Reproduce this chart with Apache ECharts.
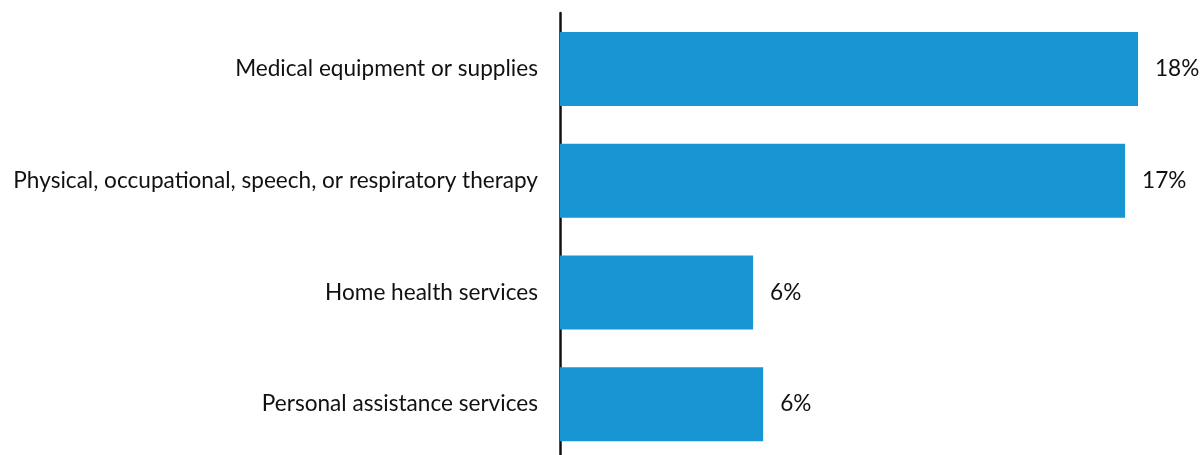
<!DOCTYPE html>
<html>
<head>
<meta charset="utf-8">
<script src="https://cdn.jsdelivr.net/npm/echarts@6/dist/echarts.min.js"></script>
<style>html,body{margin:0;padding:0;background:#fff}#c{width:1200px;height:455px}</style>
</head>
<body>
<div id="c"></div>
<script>
const categories = [
  "Medical equipment or supplies",
  "Physical, occupational, speech, or respiratory therapy",
  "Home health services",
  "Personal assistance services"
];
const values = [17.84, 17.44, 5.96, 6.27];

const chart = echarts.init(document.getElementById('c'), null, {renderer: 'canvas'});
chart.setOption({
  animation: false,
  grid: {left: 560, width: 615.6, top: 13, height: 447, containLabel: false, outerBoundsMode: 'none'},
  xAxis: {
    type: 'value', min: 0, max: 19, show: false
  },
  yAxis: {
    type: 'category', data: categories, inverse: true,
    axisLine: {show: true, lineStyle: {color: '#111', width: 2.5}},
    axisTick: {show: false},
    axisLabel: {color: '#111', fontFamily: 'Lato', fontSize: 22.6, margin: 22}
  },
  series: [{
    type: 'bar', data: values, barWidth: 74,
    itemStyle: {color: '#1896d3'},
    label: {
      show: true, position: 'right', distance: 17,
      color: '#111', fontFamily: 'Lato', fontSize: 22.6,
      formatter: p => Math.round(p.value) + '%'
    }
  }]
});
</script>
</body>
</html>
